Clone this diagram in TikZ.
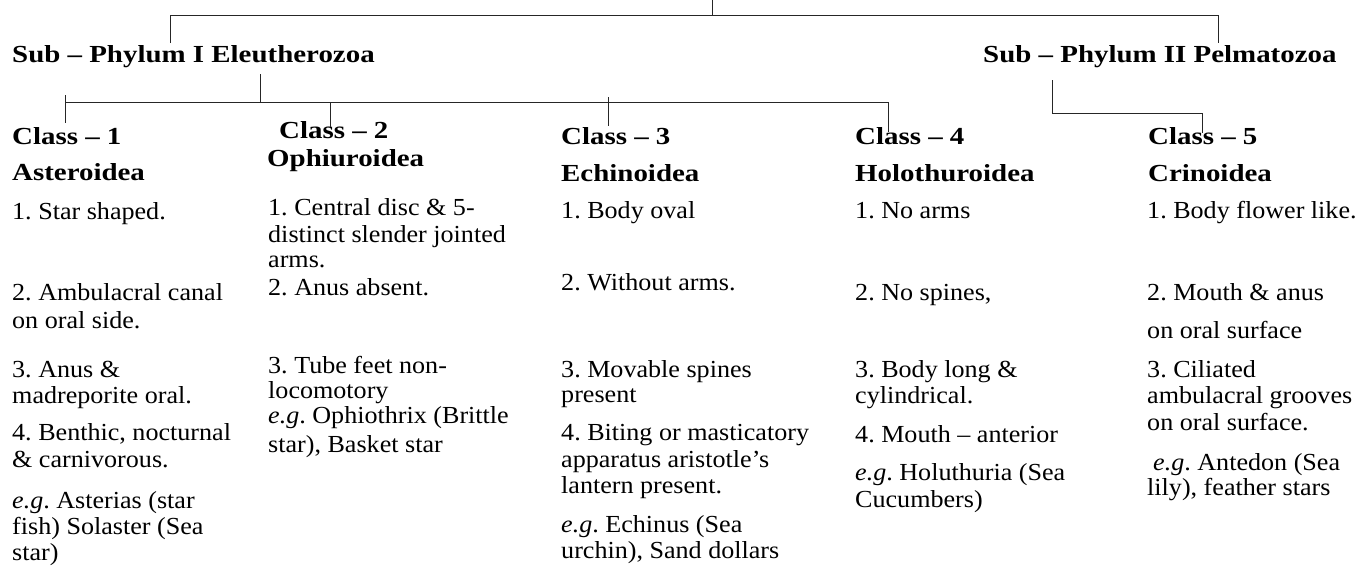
\documentclass[tikz,border=0pt]{standalone}
\usepackage{fontspec}
\setmainfont{Liberation Serif}[FakeStretch=1.065,Ligatures=TeX]
\newfontfamily\hdfont{Liberation Serif}[FakeStretch=1.18,Ligatures=TeX]
\frenchspacing
\begin{document}
\begin{tikzpicture}[x=1pt,y=-1pt,
  txt/.style={anchor=base west,inner sep=0pt,font=\fontsize{24.5}{26}\selectfont},
  hd/.style={anchor=base west,inner sep=0pt,font=\hdfont\bfseries\fontsize{24.5}{26}\selectfont},
  conn/.style={draw=black!85,line width=0.8pt}]
\useasboundingbox (0,0) rectangle (1365,568);
% headings
\node[hd] (p1) at (12,62.7) {Sub – Phylum I Eleutherozoa};
\node[hd] (p2) at (983,62.7) {Sub – Phylum II Pelmatozoa};
\node[hd] (c1) at (12,144) {Class – 1};
\node[hd] (n1) at (12,180) {Asteroidea};
\node[hd] (c2) at (279,138) {Class – 2};
\node[hd] (n2) at (267,166) {Ophiuroidea};
\node[hd] (c3) at (561,144) {Class – 3};
\node[hd] (n3) at (561,181) {Echinoidea};
\node[hd] (c4) at (855,144) {Class – 4};
\node[hd] (n4) at (855,181) {Holothuroidea};
\node[hd] (c5) at (1148,144) {Class – 5};
\node[hd] (n5) at (1148,181) {Crinoidea};
% column 1
\node[txt] (a1) at (12,219) {1. Star shaped.};
\node[txt] (a2) at (12,300) {2. Ambulacral canal};
\node[txt] (a3) at (12,328) {on oral side.};
\node[txt] (a4) at (12,377) {3. Anus \&};
\node[txt] (a5) at (12,403) {madreporite oral.};
\node[txt] (a6) at (12,440) {4. Benthic, nocturnal};
\node[txt] (a7) at (12,467) {\& carnivorous.};
\node[txt] (a8) at (12,508) {\textit{e.g}. Asterias (star};
\node[txt] (a9) at (12,534) {fish) Solaster (Sea};
\node[txt] (a10) at (12,560) {star)};
% column 2
\node[txt] (b1) at (268,215) {1. Central disc \& 5-};
\node[txt] (b2) at (268,242) {distinct slender jointed};
\node[txt] (b3) at (268,267) {arms.};
\node[txt] (b4) at (268,295) {2. Anus absent.};
\node[txt] (b5) at (268,373) {3. Tube feet non-};
\node[txt] (b6) at (268,398) {locomotory};
\node[txt] (b7) at (268,423) {\textit{e.g}. Ophiothrix (Brittle};
\node[txt] (b8) at (268,452) {star), Basket star};
% column 3
\node[txt] (d1) at (561,218) {1. Body oval};
\node[txt] (d2) at (561,290) {2. Without arms.};
\node[txt] (d3) at (561,377) {3. Movable spines};
\node[txt] (d4) at (561,402) {present};
\node[txt] (d5) at (561,440) {4. Biting or masticatory};
\node[txt] (d6) at (561,467) {apparatus aristotle’s};
\node[txt] (d7) at (561,493) {lantern present.};
\node[txt] (d8) at (561,532) {\textit{e.g}. Echinus (Sea};
\node[txt] (d9) at (561,558) {urchin), Sand dollars};
% column 4
\node[txt] (e1) at (855,218) {1. No arms};
\node[txt] (e2) at (855,300) {2. No spines,};
\node[txt] (e3) at (855,377) {3. Body long \&};
\node[txt] (e4) at (855,403) {cylindrical.};
\node[txt] (e5) at (855,442) {4. Mouth – anterior};
\node[txt] (e6) at (855,480) {\textit{e.g}. Holuthuria (Sea};
\node[txt] (e7) at (855,507) {Cucumbers)};
% column 5
\node[txt] (f1) at (1147,218) {1. Body flower like.};
\node[txt] (f2) at (1147,300) {2. Mouth \& anus};
\node[txt] (f3) at (1147,338) {on oral surface};
\node[txt] (f4) at (1147,377) {3. Ciliated};
\node[txt] (f5) at (1147,403) {ambulacral grooves};
\node[txt] (f6) at (1147,430) {on oral surface.};
\node[txt] (f7) at (1153,470) {\textit{e.g}. Antedon (Sea};
\node[txt] (f8) at (1147,495) {lily), feather stars};
% connector points
\coordinate (top) at (712,0);
\coordinate (topm) at (712,15.7);
\coordinate (tl) at (170,15.7);
\coordinate (tr) at (1218,15.7);
\coordinate (tle) at (170,43);
\coordinate (tre) at (1218,43);
\coordinate (la) at (260,74);
\coordinate (lb) at (260,102.7);
\coordinate (ll) at (65,102.7);
\coordinate (lr) at (888,102.7);
\coordinate (t1a) at (65,95);
\coordinate (t1b) at (65,123);
\coordinate (t2a) at (330,102.7);
\coordinate (t2b) at (330,127);
\coordinate (t3a) at (608,97);
\coordinate (t3b) at (608,126);
\coordinate (t4b) at (888,132);
\coordinate (ra) at (1052,80);
\coordinate (rb) at (1052,113);
\coordinate (rc) at (1202,113);
\coordinate (rd) at (1202,133);
% connectors
\draw[conn] (top) -- (topm);
\draw[conn] (tle) -- (tl) -- (tr) -- (tre);
\draw[conn] (la) -- (lb);
\draw[conn] (ll) -- (lr) -- (t4b);
\draw[conn] (t1a) -- (t1b);
\draw[conn] (t2a) -- (t2b);
\draw[conn] (t3a) -- (t3b);
\draw[conn] (ra) -- (rb) -- (rc) -- (rd);
\end{tikzpicture}
\end{document}
